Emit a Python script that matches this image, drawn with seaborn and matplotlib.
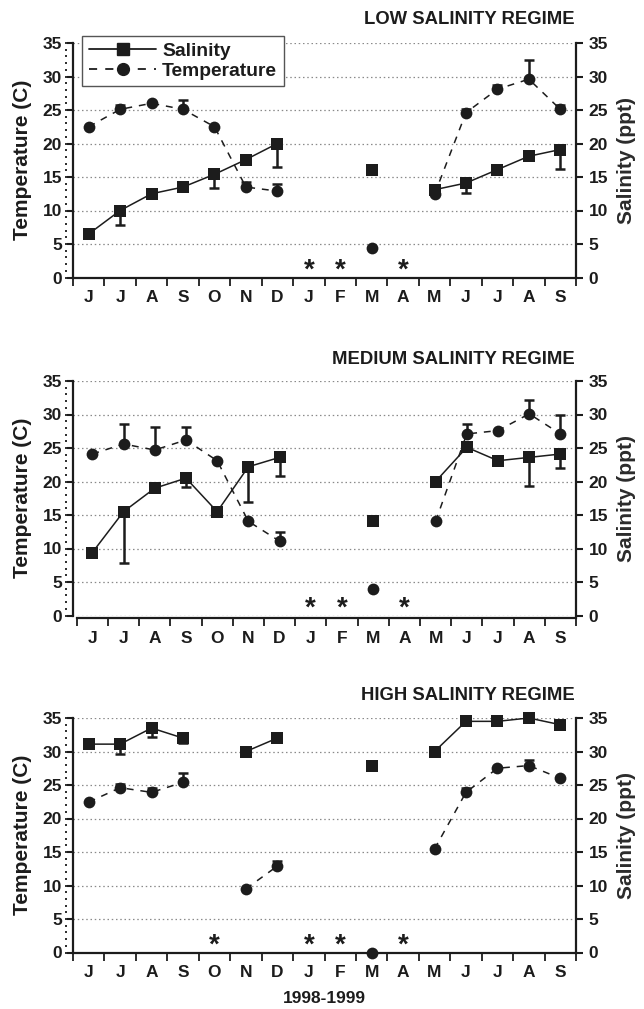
import numpy as np
import pandas as pd
import matplotlib
matplotlib.use("Agg")
import matplotlib.pyplot as plt
import seaborn as sns
from matplotlib.lines import Line2D
from matplotlib.ticker import MultipleLocator, NullLocator, NullFormatter

# ---------------- data ----------------
N = np.nan
months = ['J', 'J', 'A', 'S', 'O', 'N', 'D', 'J', 'F', 'M', 'A', 'M', 'J', 'J', 'A', 'S']
titles = ['LOW SALINITY REGIME', 'MEDIUM SALINITY REGIME', 'HIGH SALINITY REGIME']
xlabel_text = '1998-1999'

low_sal = [6.5, 10.0, 12.5, 13.5, 15.4, 17.6, 20.0, N, N, 16.1, N, 13.1, 14.1, 16.1, 18.1, 19.1]
low_sal_err = [N, 7.9, N, N, 13.4, N, 16.5, N, N, N, N, N, 12.6, N, N, 16.2]
low_temp = [22.5, 25.1, 26.0, 25.1, 22.5, 13.5, 12.9, N, N, 4.4, N, 12.4, 24.6, 28.1, 29.6, 25.1]
low_temp_err = [N, 25.8, N, 26.5, N, 14.2, 13.9, N, N, N, N, N, 25.1, 28.7, 32.4, 25.7]

med_sal = [9.4, 15.5, 19.0, 20.5, 15.5, 22.2, 23.6, N, N, 14.05, N, 20.0, 25.1, 23.1, 23.6, 24.1]
med_sal_err = [N, 7.85, N, 19.2, 14.8, 16.9, 20.8, N, N, N, N, N, N, N, 19.3, 21.95]
med_temp = [24.1, 25.6, 24.7, 26.2, 23.1, 14.05, 11.1, N, N, 4.0, N, 14.05, 27.1, 27.6, 30.1, 27.1]
med_temp_err = [N, 28.6, 28.2, 28.2, N, N, 12.4, N, N, N, N, N, 28.6, N, 32.2, 29.95]

high_sal = [31.1, 31.1, 33.5, 32.0, N, 30.0, 32.0, N, N, 27.9, N, 30.0, 34.5, 34.5, 35.0, 34.0]
high_sal_err = [N, 29.6, 32.1, 31.3, N, N, N, N, N, N, N, N, N, N, N, N]
high_temp = [22.45, 24.6, 23.9, 25.4, N, 9.5, 12.9, N, N, 0.0, N, 15.45, 23.9, 27.5, 27.9, 26.0]
high_temp_err = [N, 25.2, 24.6, 26.8, N, N, 13.6, N, N, N, N, N, 24.5, N, 28.7, N]

# ---------------- style ----------------
sns.set_style("ticks")
plt.rcParams['font.family'] = ['Liberation Sans', 'DejaVu Sans']
plt.rcParams['font.weight'] = 'bold'
plt.rcParams['axes.labelweight'] = 'bold'
INK = '#1c1c1c'
GRID = '#8a8a8a'
plt.rcParams['text.color'] = INK
plt.rcParams['axes.labelcolor'] = INK
plt.rcParams['xtick.color'] = INK
plt.rcParams['ytick.color'] = INK

W_PX, H_PX = 644, 1009
fig = plt.figure(figsize=(W_PX / 100, H_PX / 100), dpi=100)

ax_left_px, ax_w_px, ax_h_px = 73, 503, 234.5
tops_px = [43, 381, 718]
title_y_px = [19, 359, 696]
xlim_lefts = [-0.5, -0.62, -0.5]

panels = [
    (low_sal, low_sal_err, low_temp, low_temp_err),
    (med_sal, med_sal_err, med_temp, med_temp_err),
    (high_sal, high_sal_err, high_temp, high_temp_err),
]


def seg_frame(vals):
    v = np.asarray(vals, float)
    seg = np.cumsum(np.isnan(v))
    return pd.DataFrame({'x': np.arange(len(v)), 'y': v, 'seg': seg}).dropna()


def draw_err(ax, vals, ends):
    v = np.asarray(vals, float)
    e = np.asarray(ends, float)
    ok = ~np.isnan(e)
    x = np.arange(len(v))[ok]
    ax.vlines(x, v[ok], e[ok], color=INK, lw=1.8, zorder=2.5)
    ax.scatter(x, e[ok], marker='_', s=60, linewidths=1.8, color=INK, zorder=2.5)


x_all = np.arange(len(months))
for i, (sal, sal_e, temp, temp_e) in enumerate(panels):
    bottom = 1 - (tops_px[i] + ax_h_px) / H_PX
    ax = fig.add_axes([ax_left_px / W_PX, bottom, ax_w_px / W_PX, ax_h_px / H_PX])

    # spines first (set_position resets ticks)
    for s in ['top', 'right']:
        ax.spines[s].set_visible(False)
    ax.spines['left'].set_linewidth(1.6)
    ax.spines['bottom'].set_linewidth(1.6)
    ax.spines['left'].set_color(INK)
    ax.spines['bottom'].set_color(INK)
    if xlim_lefts[i] != -0.5:
        ax.spines['bottom'].set_position(('outward', 2))

    ax.set_xlim(xlim_lefts[i], 15.5)
    ax.set_ylim(0, 35)
    if xlim_lefts[i] != -0.5:
        ax.spines['bottom'].set_bounds(-0.5, 15.5)

    # grid
    ax.set_yticks(np.arange(0, 36, 5))
    ax.yaxis.grid(True, color=GRID, lw=0.9, ls=(0, (1.2, 2.2)), zorder=0)
    ax.set_axisbelow(True)

    # lines
    dfs = seg_frame(sal)
    dft = seg_frame(temp)
    sns.lineplot(data=dfs, x='x', y='y', units='seg', estimator=None, color=INK,
                 lw=1.1, ax=ax, legend=False, zorder=2)
    sns.lineplot(data=dft, x='x', y='y', units='seg', estimator=None, color=INK,
                 lw=1.1, linestyle=(0, (4.5, 4.5)), ax=ax, legend=False, zorder=2)

    draw_err(ax, sal, sal_e)
    draw_err(ax, temp, temp_e)

    sns.scatterplot(x=dfs['x'], y=dfs['y'], marker='s', s=68, color=INK,
                    edgecolor=INK, linewidth=0, ax=ax, zorder=3, clip_on=False, legend=False)
    sns.scatterplot(x=dft['x'], y=dft['y'], marker='o', s=72, color=INK,
                    edgecolor=INK, linewidth=0, ax=ax, zorder=3, clip_on=False, legend=False)

    # asterisks for months with no data
    miss = x_all[np.isnan(np.asarray(sal, float)) & np.isnan(np.asarray(temp, float))]
    for m in miss:
        ax.text(m, 0, '*', ha='center', va='baseline', fontsize=20, fontweight='bold',
                color=INK, zorder=3)

    ax.set_xlabel('')
    ax.set_ylabel('Temperature (C)', fontsize=15, fontweight='bold')
    ax.yaxis.set_label_coords(-0.082, 0.5)

    # x ticks: boundaries as major ticks, labels at centers
    ax.set_xticks(np.arange(-0.5, 16, 1))
    ax.set_xticklabels([])
    ax.set_xticks(x_all, minor=True)
    ax.set_xticklabels(months, minor=True, fontsize=12.5, fontweight='bold')
    ax.tick_params(axis='x', which='major', length=6, width=1.3, direction='out')
    ax.tick_params(axis='x', which='minor', length=0, pad=9)
    ax.tick_params(axis='y', which='major', length=4, width=1.5, direction='out',
                   pad=4, labelsize=12.5)
    for lab in ax.get_yticklabels():
        lab.set_fontweight('bold')

    # dotted minor ticks offset left of the spine
    sec = ax.secondary_yaxis(-0.011)
    sec.spines['left'].set_visible(False)
    sec.yaxis.set_major_locator(NullLocator())
    sec.yaxis.set_minor_locator(MultipleLocator(1))
    sec.yaxis.set_minor_formatter(NullFormatter())
    sec.tick_params(axis='y', which='minor', length=1.3, width=1.3, direction='out', color=INK)

    # right axis
    ax2 = ax.twinx()
    ax2.set_ylim(0, 35)
    ax2.set_yticks(np.arange(0, 36, 5))
    ax2.tick_params(axis='y', length=5, width=1.5, direction='out', pad=4, labelsize=12.5)
    for lab in ax2.get_yticklabels():
        lab.set_fontweight('bold')
    for s in ['top', 'left', 'bottom']:
        ax2.spines[s].set_visible(False)
    ax2.spines['right'].set_linewidth(1.6)
    ax2.spines['right'].set_color(INK)
    ax2.set_ylabel('Salinity (ppt)', fontsize=15, fontweight='bold', color='#2b2b2b')
    ax2.yaxis.set_label_coords(1.081, 0.5)

    fig.text(0.893, 1 - title_y_px[i] / H_PX, titles[i], ha='right', va='center',
             fontsize=13.3, fontweight='bold', color=INK)

    if i == 0:
        handles = [
            Line2D([], [], color=INK, lw=1.3, marker='s', markersize=8.3, label='Salinity'),
            Line2D([], [], color=INK, lw=1.3, ls=(0, (4.5, 4.5)), marker='o', markersize=8.5,
                   label='Temperature'),
        ]
        leg = ax.legend(handles=handles, loc='upper left', bbox_to_anchor=(0.018, 1.03),
                        borderaxespad=0, frameon=True, fancybox=False,
                        framealpha=1, edgecolor='#555555', handlelength=3.5,
                        handletextpad=0.3, labelspacing=0.1, borderpad=0.35,
                        prop={'weight': 'bold', 'size': 13.9})
        leg.get_frame().set_linewidth(1.0)
        leg.set_zorder(5)
    if i == 2:
        ax.set_xlabel(xlabel_text, fontsize=12.5, fontweight='bold', labelpad=8)

fig.savefig('out.png', dpi=100)
